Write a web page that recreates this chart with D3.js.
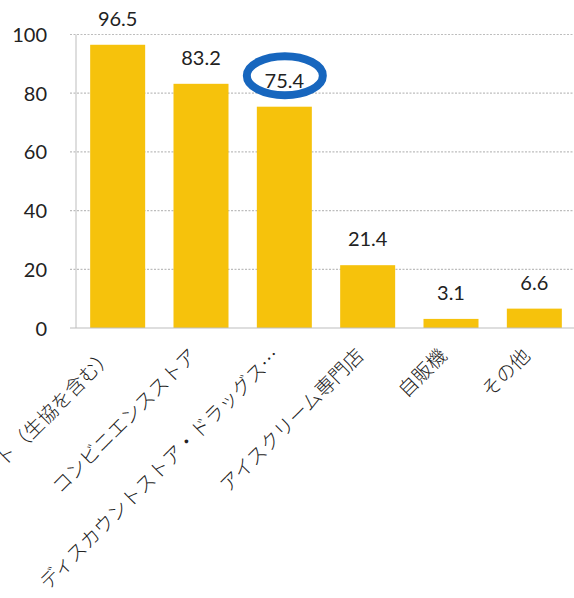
<!DOCTYPE html>
<html><head><meta charset="utf-8">
<script src="https://cdn.jsdelivr.net/npm/d3@7"></script>
<style>
html,body{margin:0;padding:0;background:#fff;}
svg{display:block;}
</style></head>
<body>
<svg id="c" width="574" height="598"></svg>
<script>
const categories = ["スーパーマーケット（生協を含む）","コンビニエンスストア","ディスカウントストア・ドラッグス…","アイスクリーム専門店","自販機","その他"];
const values = [96.5, 83.2, 75.4, 21.4, 3.1, 6.6];
const yTicks = [0, 20, 40, 60, 80, 100];
const highlightIndex = 2;

const svg = d3.select("#c");
const numFont = "Lato, 'Noto Sans CJK JP', sans-serif";
const jpFont = "'Noto Sans CJK JP', sans-serif";

const x = d3.scaleBand().domain(categories).range([76, 576]).paddingInner(0.34).paddingOuter(0.17);
const y = d3.scaleLinear().domain([0, 100]).range([328, 34.5]);

// gridlines
svg.append("g").selectAll("line").data(yTicks.filter(d => d > 0)).join("line")
  .attr("x1", 70).attr("x2", 574)
  .attr("y1", d => y(d)).attr("y2", d => y(d))
  .attr("stroke", "#bdbdbd").attr("stroke-width", 1.2).attr("stroke-dasharray", "2,1.5");

// y axis
const yAxis = d3.axisLeft(y).tickValues(yTicks).tickSize(0).tickPadding(0);
const ga = svg.append("g").attr("transform", "translate(47,0)").call(yAxis);
ga.select(".domain").remove();
ga.selectAll("text").attr("font-family", numFont).attr("font-size", 20).attr("fill", "#222").attr("dy", "0.35em");

// left axis line
svg.append("line").attr("x1", 76).attr("x2", 76).attr("y1", y(100)).attr("y2", y(0))
  .attr("stroke", "#c8c8c8").attr("stroke-width", 1.2);

// bars
svg.append("g").selectAll("rect").data(values).join("rect")
  .attr("x", (d, i) => x(categories[i]))
  .attr("width", x.bandwidth())
  .attr("y", d => y(d))
  .attr("height", d => y(0) - y(d))
  .attr("fill", "#F6C20C");

// baseline
svg.append("line").attr("x1", 70).attr("x2", 574).attr("y1", y(0)).attr("y2", y(0))
  .attr("stroke", "#bdbdbd").attr("stroke-width", 1.2);

// value labels
svg.append("g").selectAll("text").data(values).join("text")
  .attr("x", (d, i) => x(categories[i]) + x.bandwidth() / 2)
  .attr("y", d => y(d) - 19)
  .attr("text-anchor", "middle")
  .attr("font-family", numFont).attr("font-size", 20).attr("fill", "#222")
  .text(d => d.toFixed(1));

// highlight ellipse
const hx = x(categories[highlightIndex]) + x.bandwidth() / 2;
svg.append("ellipse")
  .attr("cx", hx + 0.5).attr("cy", y(values[highlightIndex]) - 31)
  .attr("rx", 38).attr("ry", 19.5)
  .attr("fill", "none").attr("stroke", "#1766BE").attr("stroke-width", 8);

// x labels
svg.append("g").selectAll("text").data(categories).join("text")
  .attr("transform", d => `translate(${x(d) + x.bandwidth() / 2 - 3},${357}) rotate(-45)`)
  .attr("text-anchor", "end")
  .attr("font-family", jpFont).attr("font-size", 19.5).attr("font-weight", 300).attr("fill", "#222")
  .text(d => d);
</script>
</body></html>
